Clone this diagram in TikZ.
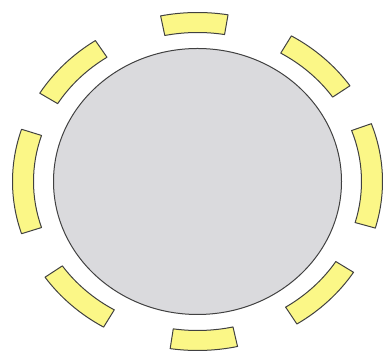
\documentclass[tikz,border=0pt]{standalone}
\definecolor{chairfill}{RGB}{251,247,135}
\definecolor{tablefill}{RGB}{218,218,221}
\definecolor{edgecol}{RGB}{65,65,65}
\newcommand\chairat[2]{%
  \draw[chair] ({164*cos(#1-#2)},{149*sin(#1-#2)})
    arc[start angle=#1-#2, end angle=#1+#2, x radius=164, y radius=149]
    -- ({185*cos(#1+#2)},{169*sin(#1+#2)})
    arc[start angle=#1+#2, end angle=#1-#2, x radius=185, y radius=169]
    -- cycle;}
\begin{document}
\begin{tikzpicture}[x=1pt,y=1pt,
  chair/.style={fill=chairfill,draw=edgecol,line width=1pt,line join=round},
  tbl/.style={fill=tablefill,draw=edgecol,line width=1pt}]
\useasboundingbox (0,0) rectangle (383,352);
\begin{scope}[shift={(197.5,170.5)}]
  \draw[tbl] (0,0) ellipse [x radius=144, y radius=133];
  \chairat{91}{10.5}
  \chairat{-88}{10.5}
  \chairat{180}{18}
  \chairat{2}{18}
  \chairat{136}{12.5}
  \chairat{47}{12.5}
  \chairat{227}{12.5}
  \chairat{-45}{12.5}
\end{scope}
\end{tikzpicture}
\end{document}
